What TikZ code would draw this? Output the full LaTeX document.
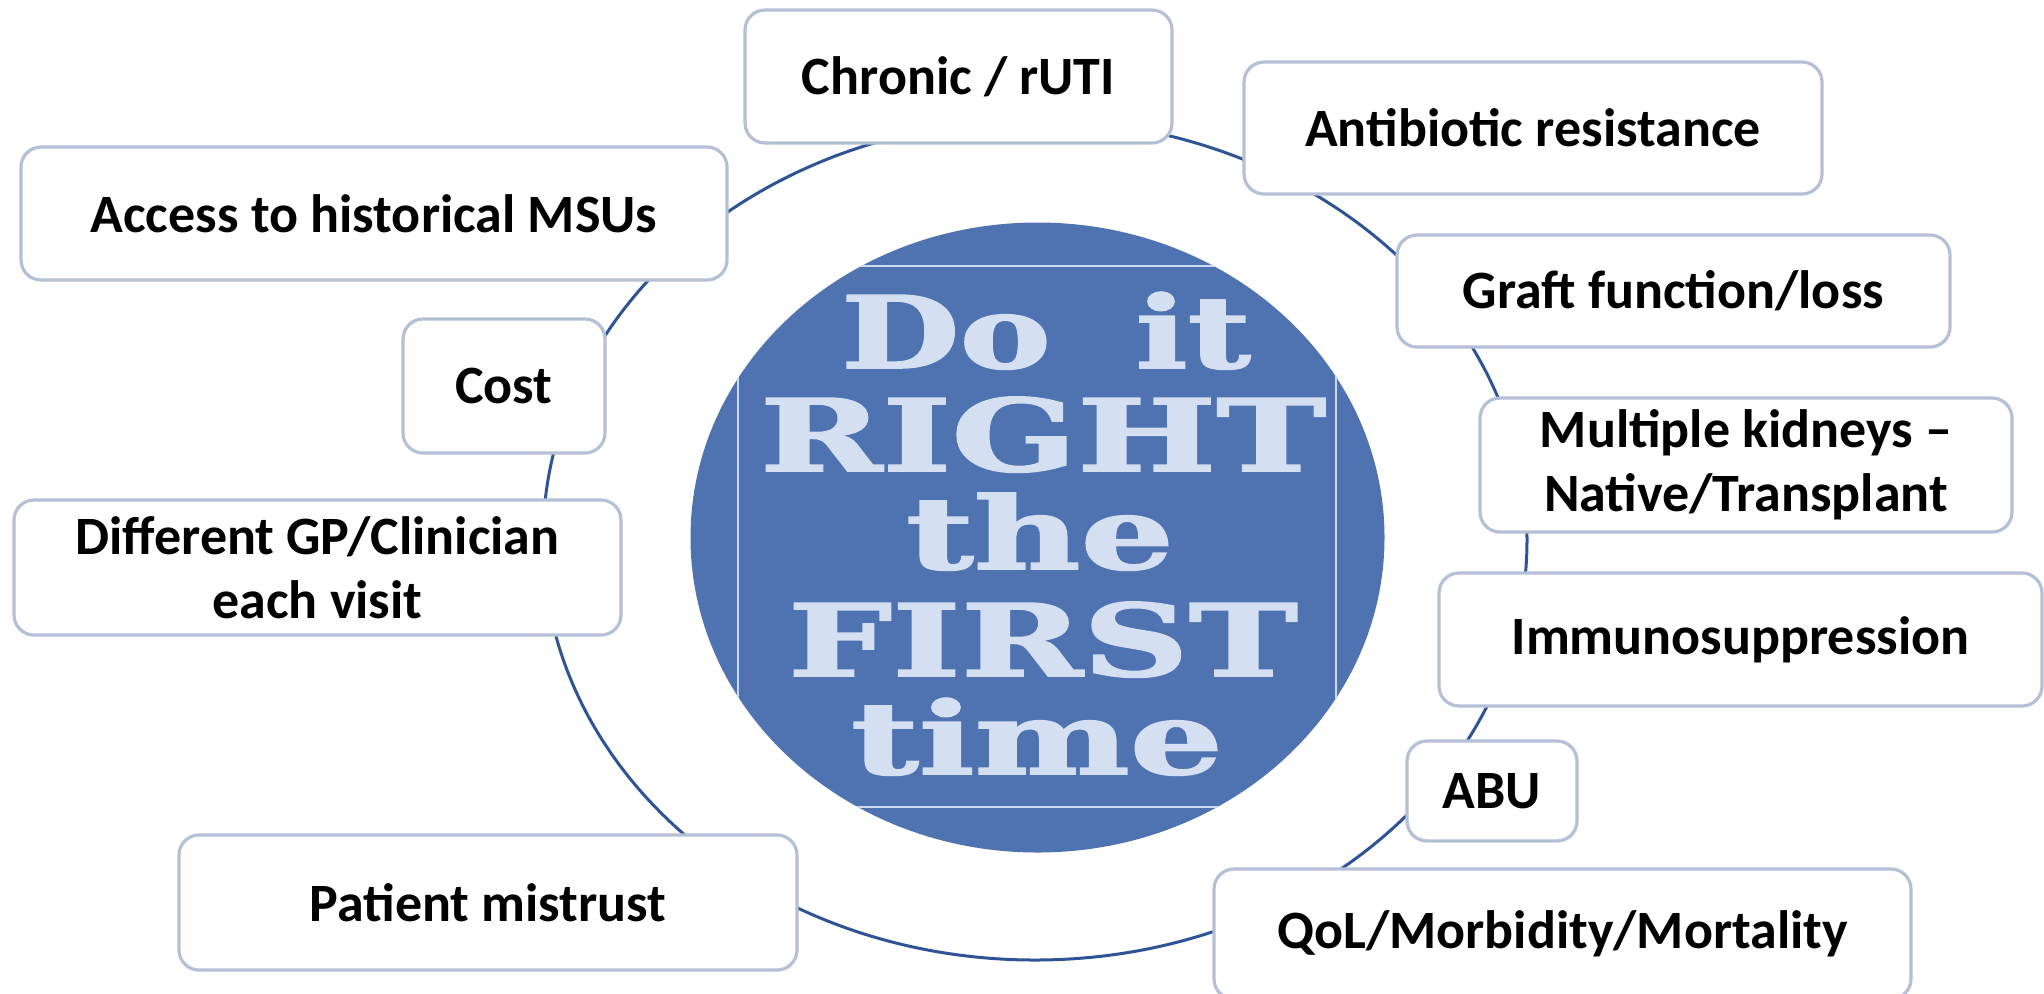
\documentclass[tikz,border=0pt]{standalone}
\usepackage{fontspec}
\setmainfont{Carlito}
\newfontfamily\slabfont{DejaVu Serif}[BoldFeatures={FakeBold=1.6}]
\usepackage{graphicx}
\usetikzlibrary{shapes.geometric}

\definecolor{ringblue}{RGB}{47,84,150}
\definecolor{boxedge}{RGB}{180,192,214}
\definecolor{discblue}{RGB}{79,114,176}
\definecolor{chalk}{RGB}{212,224,242}
\definecolor{framelight}{RGB}{205,218,240}

\begin{document}
\begin{tikzpicture}[x=0.5pt,y=-0.5pt,
  issue/.style={draw=boxedge, line width=1.6pt, fill=white, rounded corners=10pt,
    inner sep=0pt, align=center, font=\bfseries\fontsize{27}{32}\selectfont},
  cycle/.style={ellipse, draw=ringblue, line width=1.5pt, inner sep=0pt},
  disc/.style={ellipse, fill=discblue, inner sep=0pt},
  chalkline/.style={anchor=base, inner sep=0pt, text=chalk,
    font=\slabfont\bfseries\fontsize{50}{50}\selectfont}]

\useasboundingbox (0,0) rectangle (2044,993);

% ring linking all the issues
\node[cycle, minimum width=492pt, minimum height=420pt] (ring) at (1035,540) {};

% central chalkboard disc
\node[disc, minimum width=347pt, minimum height=315pt] (core) at (1037.5,537.5) {};
\begin{scope}
  \clip (core.center) ellipse [x radius=173.5pt, y radius=157.5pt];
  \draw[framelight, line width=1pt] (738,266) rectangle (1336,807);
\end{scope}

\node[chalkline] (l1) at (1046,368) {\resizebox{205pt}{\height}{Do\hspace{0.62em}it}};
\node[chalkline] (l2) at (1043,471) {\resizebox{283pt}{\height}{RIGHT}};
\node[chalkline] (l3) at (1040,569) {\resizebox{134pt}{\height}{the}};
\node[chalkline] (l4) at (1043,676) {\resizebox{255pt}{\height}{FIRST}};
\node[chalkline] (l5) at (1037,774) {\resizebox{186pt}{\height}{time}};

% issue boxes
\node[issue, minimum width=213.5pt, minimum height=66.5pt] (chronic) at (958.5,76.5) {Chronic / rUTI};
\node[issue, minimum width=289pt, minimum height=66pt] (antibiotic) at (1533,128) {Antibiotic resistance};
\node[issue, minimum width=353pt, minimum height=66.5pt] (access) at (374,213.5) {Access to historical MSUs};
\node[issue, minimum width=276.5pt, minimum height=56pt] (graft) at (1673.5,291) {Graft function/loss};
\node[issue, minimum width=101pt, minimum height=67pt] (cost) at (504,386) {Cost};
\node[issue, minimum width=266pt, minimum height=67pt] (kidneys) at (1746,465) {Multiple kidneys --\\Native/Transplant};
\node[issue, minimum width=303.5pt, minimum height=67.5pt] (clinician) at (317.5,567.5) {Different GP/Clinician\\each visit};
\node[issue, minimum width=301.5pt, minimum height=66.5pt] (immuno) at (1740.5,639.5) {Immunosuppression};
\node[issue, minimum width=85pt, minimum height=50pt] (abu) at (1492,791) {ABU};
\node[issue, minimum width=309pt, minimum height=67.5pt] (mistrust) at (488,902.5) {Patient mistrust};
\node[issue, minimum width=348.5pt, minimum height=65pt] (qol) at (1562.5,934) {QoL/Morbidity/Mortality};

\end{tikzpicture}
\end{document}
